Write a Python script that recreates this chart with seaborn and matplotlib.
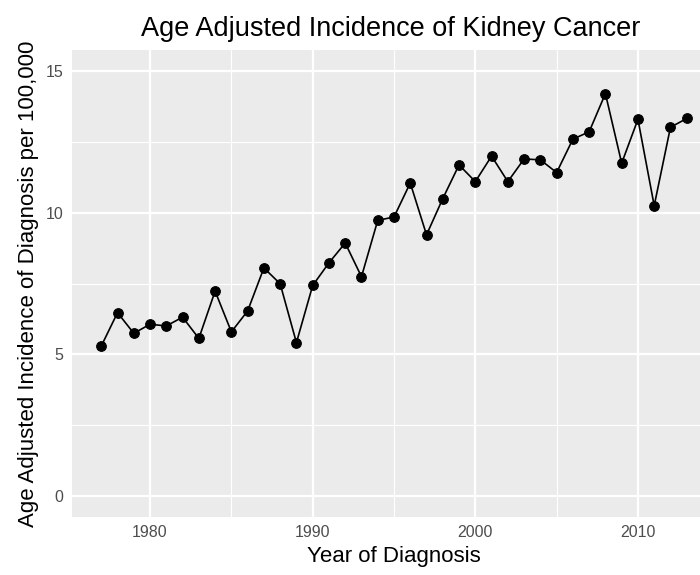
import matplotlib
matplotlib.use("Agg")
import matplotlib.pyplot as plt
import seaborn as sns
import pandas as pd
from matplotlib.ticker import MultipleLocator

years = list(range(1977, 2014))
incidence = [5.29, 6.47, 5.74, 6.06, 6.00, 6.31, 5.56, 7.23, 5.79, 6.53,
             8.05, 7.49, 5.41, 7.43, 8.23, 8.93, 7.74, 9.73, 9.85, 11.05,
             9.22, 10.50, 11.69, 11.10, 12.00, 11.10, 11.90, 11.87, 11.42,
             12.60, 12.86, 14.21, 11.75, 13.30, 10.25, 13.02, 13.33]
title = "Age Adjusted Incidence of Kidney Cancer"
xlabel = "Year of Diagnosis"
ylabel = "Age Adjusted Incidence of Diagnosis per 100,000"
xticks = [1980, 1990, 2000, 2010]
yticks = [0, 5, 10, 15]

df = pd.DataFrame({"year": years, "rate": incidence})

sns.set_style("darkgrid", {"axes.facecolor": "#EBEBEB", "grid.color": "white"})
plt.rcParams["font.family"] = ["Liberation Sans", "DejaVu Sans"]

fig = plt.figure(figsize=(7, 5.75), dpi=100)
ax = fig.add_axes([72 / 700, 1 - 517 / 575, (716 - 72) / 700, (517 - 50) / 575])

sns.lineplot(data=df, x="year", y="rate", ax=ax, color="black", linewidth=1.2,
             marker="o", markersize=7, markeredgecolor="black", zorder=3)

ax.set_xlim(1975.2, 2014.8)
ax.set_ylim(-0.75, 15.75)
ax.set_xticks(xticks)
ax.set_yticks(yticks)
ax.xaxis.set_minor_locator(MultipleLocator(5))
ax.yaxis.set_minor_locator(MultipleLocator(2.5))
ax.grid(which="major", color="white", linewidth=1.6)
ax.grid(which="minor", color="white", linewidth=0.8)
for s in ax.spines.values():
    s.set_visible(False)
ax.tick_params(which="major", length=3, width=1, color="#333333",
               labelsize=11.5, labelcolor="#4D4D4D", pad=3)
ax.tick_params(which="minor", length=0)

ax.set_xlabel(xlabel, fontsize=16, color="black", labelpad=4)
ax.set_ylabel(ylabel, fontsize=16, color="black", labelpad=5)
fig.text(391 / 700, 1 - 29 / 575, title, fontsize=19.5, color="black",
         ha="center", va="center")

fig.savefig("out.png", dpi=100)
